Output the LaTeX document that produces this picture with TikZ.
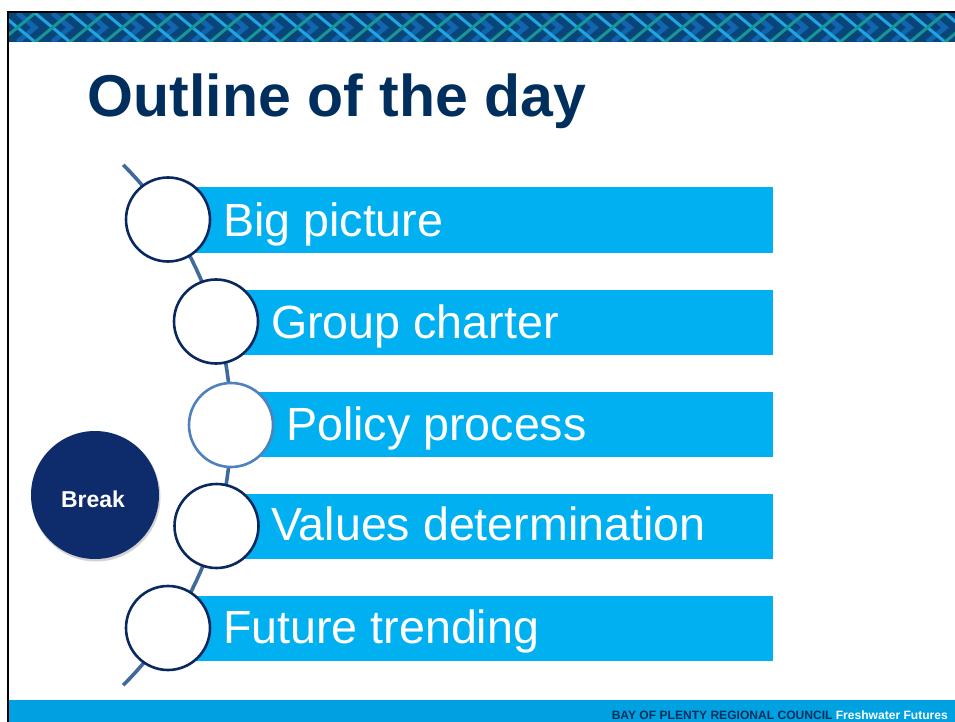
\documentclass[tikz,border=0pt]{standalone}
\usepackage{fontspec}
\setmainfont{Liberation Sans}
\usepackage{graphicx}
\definecolor{barblue}{RGB}{0,176,240}
\definecolor{footblue}{RGB}{0,161,224}
\definecolor{navy}{RGB}{10,40,96}
\definecolor{titlenavy}{RGB}{0,47,94}
\definecolor{steel}{RGB}{64,106,156}
\definecolor{ringlight}{RGB}{79,129,189}
\definecolor{breaknavy}{RGB}{14,44,108}
\definecolor{bannerbg}{RGB}{8,70,122}
\definecolor{strandA}{RGB}{30,165,226}
\definecolor{strandB}{RGB}{24,150,150}
\definecolor{strandC}{RGB}{18,100,175}
\tikzset{
  barbox/.style={fill=barblue, draw=none},
  ring/.style={circle, draw=navy, line width=2.6pt, fill=white, minimum size=84pt, inner sep=0pt},
  ringlt/.style={ring, draw=ringlight},
  bartext/.style={anchor=base west, inner sep=0pt, text=white, font=\fontsize{46.6}{52}\selectfont},
}
\begin{document}
\begin{tikzpicture}[x=1pt,y=-1pt]
\useasboundingbox (0,0) rectangle (955,722);
\fill[white] (0,0) rectangle (955,722);
% banner
\begin{scope}
\clip (8,13) rectangle (955,42);
\fill[bannerbg] (8,13) rectangle (955,42);
\foreach \i in {-1,...,28} {
  \draw[strandC, line width=5pt] ({\i*35+17.5},13) -- ({\i*35+35},27.5) -- ({\i*35+17.5},42);
  \draw[strandA, line width=3pt] ({\i*35},13) -- ({\i*35+35},42);
  \draw[strandB, line width=3pt] ({\i*35+35},13) -- ({\i*35},42);
}
\end{scope}
% borders
\draw[black, line width=2pt] (8,12) -- (955,12);
\draw[black, line width=1.6pt] (8,11) -- (8,722);
% footer
\fill[footblue] (9,700) rectangle (955,722);
\node[anchor=base east, inner sep=0pt] (foot) at (948,719)
  {\resizebox{336pt}{!}{\bfseries\fontsize{10}{12}\selectfont\textcolor{titlenavy}{BAY OF PLENTY REGIONAL COUNCIL} \textcolor{white}{Freshwater Futures}}};
% title
\node[anchor=base west, inner sep=0pt, text=titlenavy, font=\bfseries\fontsize{59}{70}\selectfont] (title) at (87.5,117) {Outline of the day};
% bars
\fill[barbox] (168,187) rectangle (773,252.5);
\fill[barbox] (216,290) rectangle (773,354.5);
\fill[barbox] (231,392) rectangle (773,456.5);
\fill[barbox] (216,494) rectangle (773,558.5);
\fill[barbox] (168,596) rectangle (773,660.5);
% spine curve
\draw[steel, line width=3.6pt] plot[domain=-45:45, samples=60] ({-137+368*cos(\x)}, {425+368*sin(\x)});
% rings
\node[ring] (c1) at (168,219.5) {};
\node[ring] (c2) at (216,321.5) {};
\node[ringlt] (c3) at (231,425) {};
\node[ring] (c4) at (216.5,526) {};
\node[ring] (c5) at (168,628) {};
% bar texts
\node[bartext] (t1) at (223,236) {Big picture};
\node[bartext] (t2) at (271,338) {Group charter};
\node[bartext] (t3) at (286,440) {Policy process};
\node[bartext] (t4) at (271,540) {Values determination};
\node[bartext] (t5) at (223,643) {Future trending};
% break
\fill[black!35, opacity=0.5] (96,497) circle (64.5);
\node[circle, fill=breaknavy, minimum size=128pt, inner sep=0pt] (brk) at (95,495) {};
\node[anchor=base, inner sep=0pt, text=white, font=\bfseries\fontsize{23}{27}\selectfont] (brkt) at (93,507) {Break};
\end{tikzpicture}
\end{document}
